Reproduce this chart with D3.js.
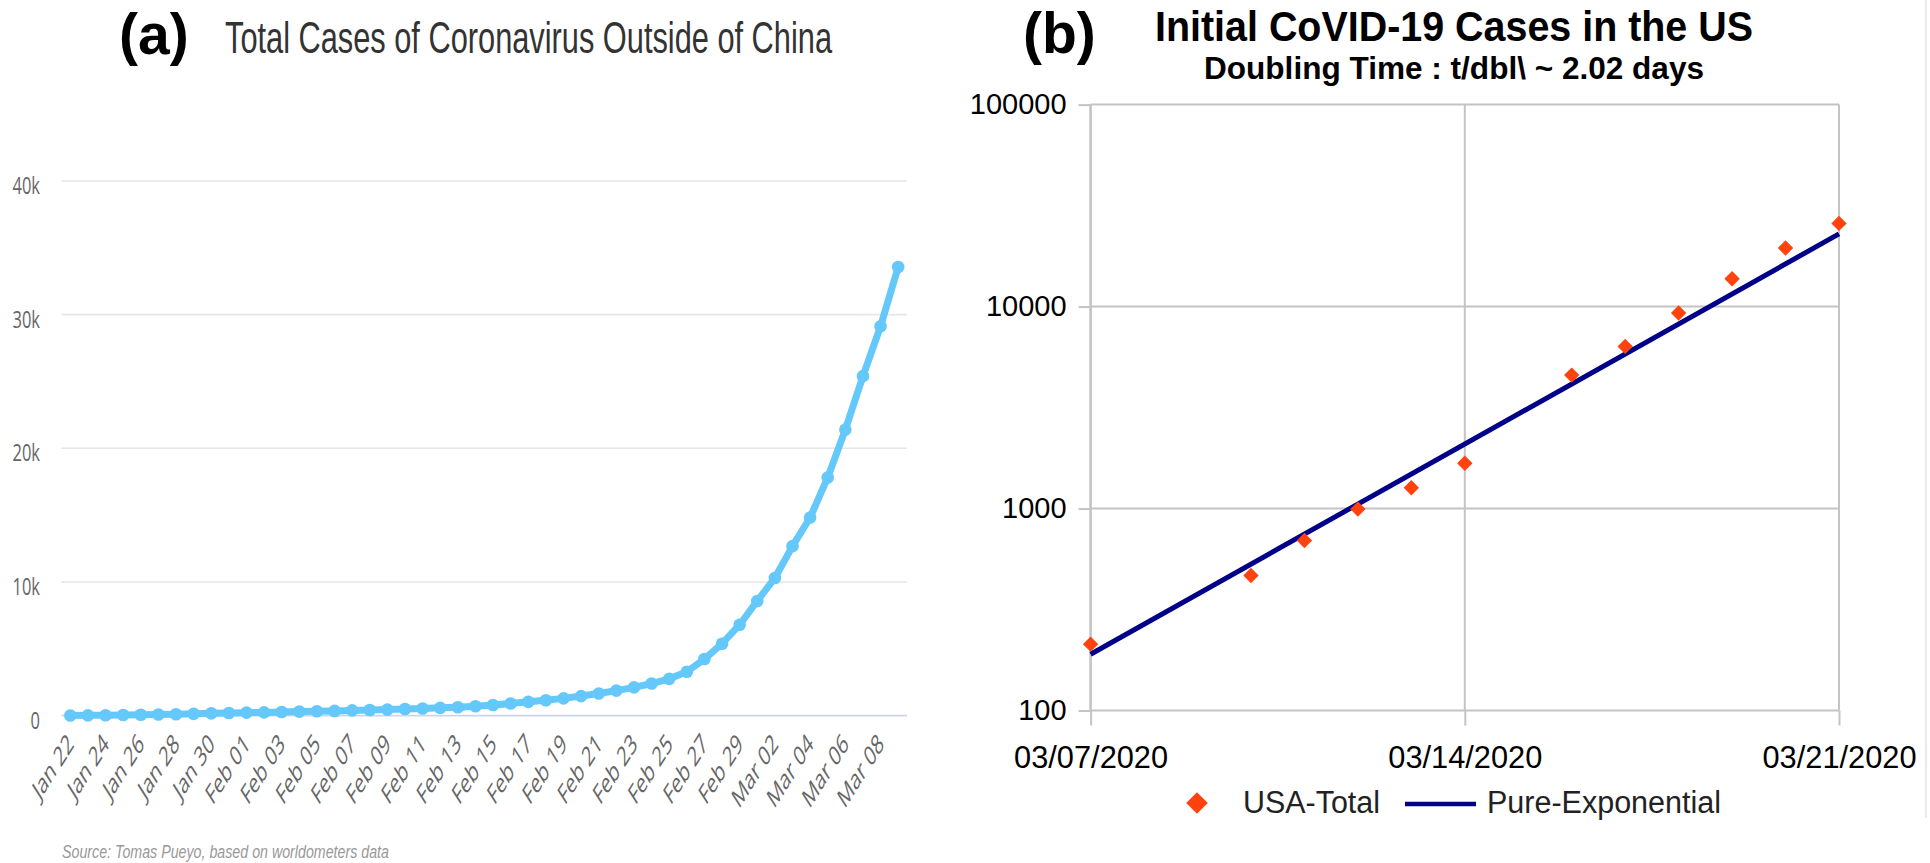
<!DOCTYPE html>
<html><head><meta charset="utf-8">
<script src="https://cdn.jsdelivr.net/npm/d3@7"></script>
<style>html,body{margin:0;padding:0;background:#fff;}svg{display:block}</style>
</head><body>
<svg id="chart" width="1930" height="863"></svg>
<script>
// ---------- Panel (a) data ----------
const casesDates = ["Jan 22","Jan 23","Jan 24","Jan 25","Jan 26","Jan 27","Jan 28","Jan 29","Jan 30","Jan 31",
  "Feb 01","Feb 02","Feb 03","Feb 04","Feb 05","Feb 06","Feb 07","Feb 08","Feb 09","Feb 10",
  "Feb 11","Feb 12","Feb 13","Feb 14","Feb 15","Feb 16","Feb 17","Feb 18","Feb 19","Feb 20",
  "Feb 21","Feb 22","Feb 23","Feb 24","Feb 25","Feb 26","Feb 27","Feb 28","Feb 29",
  "Mar 01","Mar 02","Mar 03","Mar 04","Mar 05","Mar 06","Mar 07","Mar 08","Mar 09"];
const casesValues = [10,20,30,45,60,80,100,130,170,200,
  220,240,270,300,320,350,390,420,450,490,
  530,580,630,700,790,900,1030,1150,1290,1460,
  1650,1870,2110,2400,2750,3280,4230,5380,6800,
  8580,10300,12680,14820,17820,21400,25400,29130,33560];
const casesXTickLabels = ["Jan 22","Jan 24","Jan 26","Jan 28","Jan 30","Feb 01","Feb 03","Feb 05","Feb 07","Feb 09",
  "Feb 11","Feb 13","Feb 15","Feb 17","Feb 19","Feb 21","Feb 23","Feb 25","Feb 27","Feb 29",
  "Mar 02","Mar 04","Mar 06","Mar 08"];
const casesYTicks = [0,10000,20000,30000,40000];
const casesYTickLabels = ["0","10k","20k","30k","40k"];

// ---------- Panel (b) data ----------
const usDates = ["03/07/2020","03/10/2020","03/11/2020","03/12/2020","03/13/2020","03/14/2020",
  "03/16/2020","03/17/2020","03/18/2020","03/19/2020","03/20/2020","03/21/2020"];
const usTotal = [213,466,695,994,1268,1675,4580,6350,9290,13740,19500,25800];
const expDates = ["03/07/2020","03/21/2020"];
const expValues = [190,22900];
const usXTicks = ["03/07/2020","03/14/2020","03/21/2020"];
const usYTicks = [100,1000,10000,100000];

const svg = d3.select("#chart");
const SANS = "'Liberation Sans', Arial, sans-serif";

// ================= Panel (a) =================
const gA = svg.append("g");
const xa = d3.scalePoint().domain(casesDates).range([61.5, 907]).padding(0.5);
const ya = d3.scaleLinear().domain([0, 40000]).range([715.6, 181]);
const STRETCH = 1.45;

// gridlines
gA.append("g").selectAll("line").data(casesYTicks.filter(d => d > 0)).join("line")
  .attr("x1", 61.5).attr("x2", 907).attr("y1", d => ya(d)).attr("y2", d => ya(d))
  .attr("stroke", "#e6e6e6").attr("stroke-width", 1.6);
gA.append("line").attr("x1", 61.5).attr("x2", 907).attr("y1", ya(0)).attr("y2", ya(0))
  .attr("stroke", "#ccd6eb").attr("stroke-width", 1.6);

// y axis
const yAxisA = gA.append("g").attr("transform", "translate(48,0)")
  .call(d3.axisLeft(ya).tickValues(casesYTicks).tickFormat((d, i) => casesYTickLabels[i]).tickSize(0).tickPadding(8));
yAxisA.select(".domain").remove();
yAxisA.selectAll("text").attr("font-family", "'Open Sans', sans-serif").attr("font-size", 16.5)
  .attr("fill", "#666").attr("transform", `translate(0,5) scale(1,${STRETCH})`);

// x axis
const xAxisA = gA.append("g").attr("transform", `translate(0,${ya(0)})`)
  .call(d3.axisBottom(xa).tickValues(casesXTickLabels).tickSize(0));
xAxisA.select(".domain").remove();
xAxisA.selectAll("text").attr("y", null).attr("dy", null)
  .attr("text-anchor", "end").attr("font-family", "'Open Sans', sans-serif").attr("font-size", 17.5)
  .attr("fill", "#666").attr("transform", `translate(4,30) scale(1,1.58) rotate(-45)`);

// line + markers
gA.append("path").datum(casesValues)
  .attr("d", d3.line().x((d, i) => xa(casesDates[i])).y(d => ya(d)))
  .attr("fill", "none").attr("stroke", "#64c8fa").attr("stroke-width", 7).attr("stroke-linejoin", "round");
gA.append("g").selectAll("circle").data(casesValues).join("circle")
  .attr("cx", (d, i) => xa(casesDates[i])).attr("cy", d => ya(d)).attr("r", 6.3).attr("fill", "#64c8fa");

// titles
gA.append("text").attr("x", 119).attr("y", 54).attr("font-family", SANS).attr("font-weight", "bold")
  .attr("font-size", 57).attr("fill", "#000").text("(a)");
gA.append("text").attr("transform", "translate(225,53) scale(1,1.45)").attr("font-family", SANS).attr("font-size", 30.5)
  .attr("fill", "#333").attr("textLength", 607).attr("lengthAdjust", "spacingAndGlyphs")
  .text("Total Cases of Coronavirus Outside of China");
gA.append("text").attr("transform", "translate(62,858) scale(1,1.3)").attr("font-family", SANS)
  .attr("font-style", "italic").attr("font-size", 13.5).attr("fill", "#999")
  .attr("textLength", 327).attr("lengthAdjust", "spacingAndGlyphs")
  .text("Source: Tomas Pueyo, based on worldometers data");

// ================= Panel (b) =================
const gB = svg.append("g");
const parse = d3.timeParse("%m/%d/%Y");
const xb = d3.scaleTime().domain([parse("03/07/2020"), parse("03/21/2020")]).range([1090.6, 1839]);
const yb = d3.scaleLog().domain([100, 100000]).range([710.5, 104.6]);
const GRID = "#c4c4c4";

// horizontal gridlines
gB.append("g").selectAll("line").data(usYTicks).join("line")
  .attr("x1", xb.range()[0]).attr("x2", xb.range()[1]).attr("y1", d => yb(d)).attr("y2", d => yb(d))
  .attr("stroke", GRID).attr("stroke-width", 2);
// vertical gridlines
gB.append("g").selectAll("line").data(usXTicks).join("line")
  .attr("x1", d => xb(parse(d))).attr("x2", d => xb(parse(d)))
  .attr("y1", yb.range()[1]).attr("y2", yb.range()[0])
  .attr("stroke", GRID).attr("stroke-width", (d, i) => i === 0 ? 2.6 : 2);

// y axis
const yAxisB = gB.append("g").attr("transform", `translate(${xb.range()[0]},0)`)
  .call(d3.axisLeft(yb).tickValues(usYTicks).tickFormat(d3.format("d")).tickSize(12).tickPadding(12));
yAxisB.select(".domain").remove();
yAxisB.selectAll("line").attr("stroke", GRID).attr("stroke-width", 2);
yAxisB.selectAll("text").attr("font-family", SANS).attr("font-size", 29).attr("fill", "#000");

// x axis
const xAxisB = gB.append("g").attr("transform", `translate(0,${yb.range()[0]})`)
  .call(d3.axisBottom(xb).tickValues(usXTicks.map(parse)).tickFormat(d3.timeFormat("%m/%d/%Y")).tickSize(15).tickPadding(20));
xAxisB.select(".domain").remove();
xAxisB.selectAll("line").attr("stroke", GRID).attr("stroke-width", 2);
xAxisB.selectAll("text").attr("font-family", SANS).attr("font-size", 31).attr("fill", "#000")
  .attr("textLength", 154).attr("lengthAdjust", "spacingAndGlyphs")
  .attr("x", -77).attr("text-anchor", "start");

// exponential line
gB.append("path").datum(expDates.map((d, i) => [parse(d), expValues[i]]))
  .attr("d", d3.line().x(d => xb(d[0])).y(d => yb(d[1])))
  .attr("fill", "none").attr("stroke", "#000088").attr("stroke-width", 5);

// data markers
const diamond = (area) => d3.symbol(d3.symbolSquare, area)();
gB.append("g").selectAll("path").data(usTotal).join("path")
  .attr("d", diamond(118))
  .attr("transform", (d, i) => `translate(${xb(parse(usDates[i]))},${yb(d)}) rotate(45)`)
  .attr("fill", "#ff420e");

// titles
gB.append("text").attr("x", 1023).attr("y", 53).attr("font-family", SANS).attr("font-weight", "bold")
  .attr("font-size", 57).attr("fill", "#000").text("(b)");
gB.append("text").attr("transform", "translate(1155,41) scale(1,1.08)").attr("font-family", SANS).attr("font-weight", "bold")
  .attr("font-size", 40).attr("fill", "#000").attr("textLength", 598).attr("lengthAdjust", "spacingAndGlyphs")
  .text("Initial CoVID-19 Cases in the US");
gB.append("text").attr("transform", "translate(1454,79) scale(1,1.15)").attr("text-anchor", "middle").attr("font-family", SANS)
  .attr("font-weight", "bold").attr("font-size", 27).attr("fill", "#000")
  .attr("textLength", 500).attr("lengthAdjust", "spacingAndGlyphs")
  .text("Doubling Time : t/dbl\\ ~ 2.02 days");

// legend
gB.append("path").attr("d", diamond(235)).attr("transform", "translate(1197,803) rotate(45)").attr("fill", "#ff420e");
gB.append("text").attr("x", 1243).attr("y", 813).attr("font-family", SANS).attr("font-size", 31)
  .attr("fill", "#222").attr("textLength", 137).attr("lengthAdjust", "spacingAndGlyphs").text("USA-Total");
gB.append("line").attr("x1", 1405).attr("x2", 1476).attr("y1", 804).attr("y2", 804)
  .attr("stroke", "#000088").attr("stroke-width", 4.5);
gB.append("text").attr("x", 1487).attr("y", 813).attr("font-family", SANS).attr("font-size", 31)
  .attr("fill", "#222").attr("textLength", 234).attr("lengthAdjust", "spacingAndGlyphs").text("Pure-Exponential");

// faint right border
svg.append("line").attr("x1", 1926).attr("x2", 1926).attr("y1", 0).attr("y2", 818)
  .attr("stroke", "#dfe6df").attr("stroke-width", 1.5);
</script>
</body></html>
